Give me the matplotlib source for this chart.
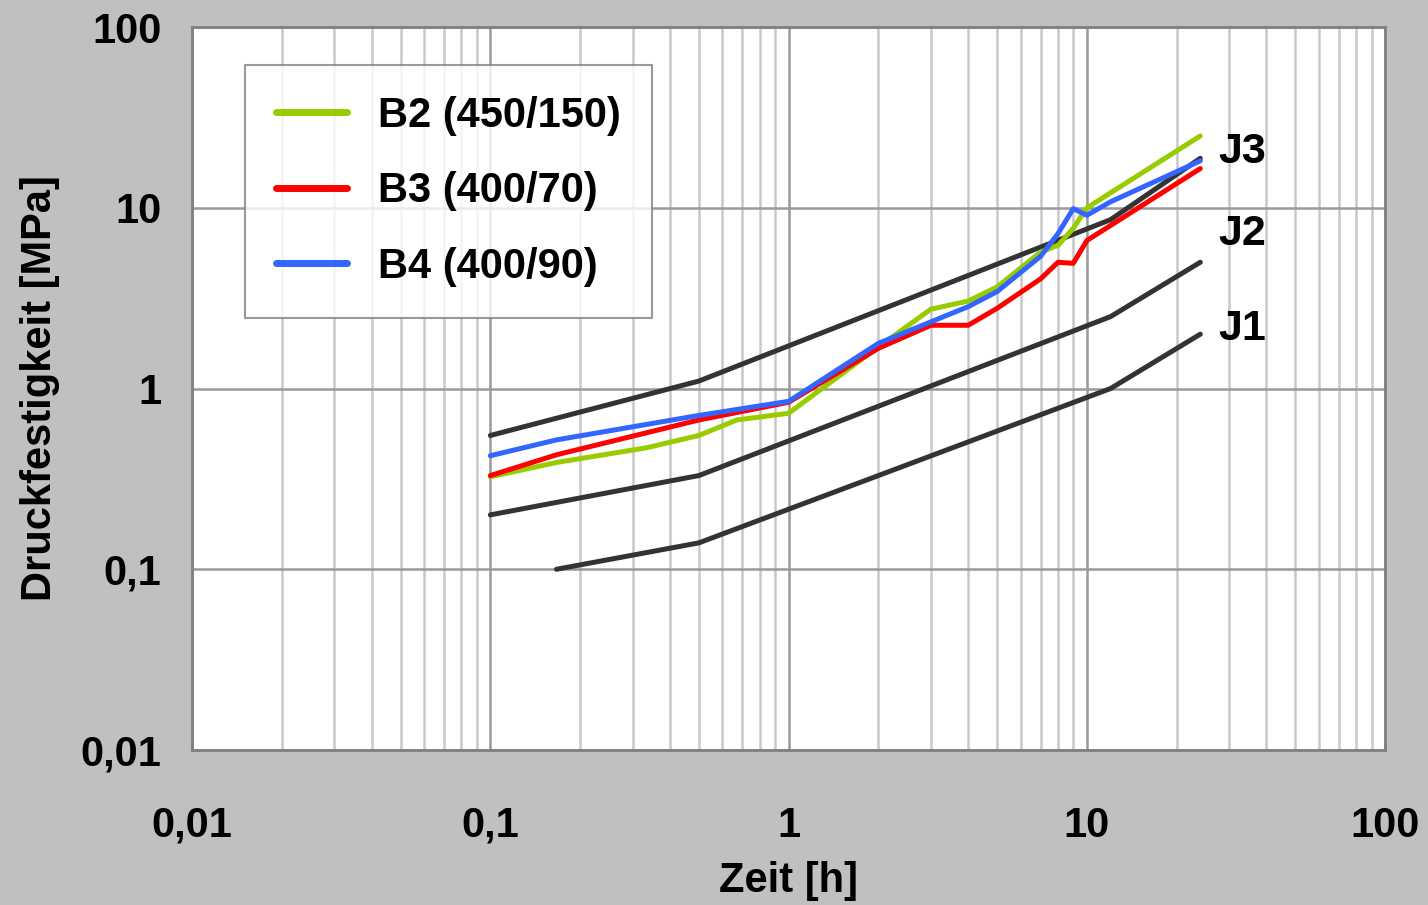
import matplotlib.pyplot as plt
from matplotlib.ticker import FixedLocator, LogLocator, NullFormatter

plt.rcParams['font.family'] = ['Liberation Sans', 'DejaVu Sans']
plt.rcParams['font.weight'] = 'bold'

# Zeit [h] / Druckfestigkeit [MPa]
b2_t = [0.1, 1/6, 1/3, 0.5, 0.67, 1, 2, 3, 4, 5, 7, 8, 9, 10, 24]
b2_f = [0.325, 0.39, 0.47, 0.55, 0.67, 0.73, 1.7, 2.75, 3.05, 3.65, 5.7, 6.2, 7.7, 10.0, 25.0]

b3_t = [0.1, 1/6, 0.5, 1, 2, 3, 4, 5, 7, 8, 9, 10, 24]
b3_f = [0.33, 0.43, 0.67, 0.84, 1.67, 2.24, 2.24, 2.78, 4.05, 5.0, 4.93, 6.6, 16.5]

b4_t = [0.1, 1/6, 0.5, 1, 2, 3, 4, 5, 7, 8, 9, 10, 12, 24]
b4_f = [0.425, 0.52, 0.71, 0.85, 1.78, 2.34, 2.84, 3.44, 5.4, 7.2, 9.9, 9.1, 10.8, 18.2]

# J-Grenzkurven
j1_t = [1/6, 0.5, 12, 24]
j1_f = [0.1, 0.14, 1.0, 2.0]
j2_t = [0.1, 0.5, 12, 24]
j2_f = [0.2, 0.33, 2.5, 5.0]
j3_t = [0.1, 0.5, 12, 24]
j3_f = [0.55, 1.1, 8.6, 18.8]

x_ticks = [0.01, 0.1, 1, 10, 100]
x_labels = ['0,01', '0,1', '1', '10', '100']
y_ticks = [0.01, 0.1, 1, 10, 100]
y_labels = ['0,01', '0,1', '1', '10', '100']

fig = plt.figure(figsize=(14.28, 9.05), dpi=100, facecolor='#c0c0c0')
ax = fig.add_axes([0.1345, 0.1713, 0.8355, 0.7987])
ax.set_facecolor('white')

ax.set_xscale('log')
ax.set_yscale('log')
ax.set_xlim(0.01, 100)
ax.set_ylim(0.01, 100)

# grid
ax.xaxis.set_minor_locator(LogLocator(base=10, subs=range(2, 10)))
ax.xaxis.set_minor_formatter(NullFormatter())
ax.yaxis.set_minor_locator(FixedLocator([]))
ax.grid(which='minor', axis='x', color='#c8c8c8', lw=1.8)
ax.grid(which='major', axis='both', color='#999999', lw=1.8)
ax.set_axisbelow(True)

lw = 3.6
ax.plot(j1_t, j1_f, color='#333333', lw=lw, solid_capstyle='round')
ax.plot(j2_t, j2_f, color='#333333', lw=lw, solid_capstyle='round')
ax.plot(j3_t, j3_f, color='#333333', lw=lw, solid_capstyle='round')
ax.plot(b2_t, b2_f, color='#99cc00', lw=lw, solid_capstyle='round', label='B2 (450/150)')
ax.plot(b3_t, b3_f, color='#ff0000', lw=lw, solid_capstyle='round', label='B3 (400/70)')
ax.plot(b4_t, b4_f, color='#3366ff', lw=lw, solid_capstyle='round', label='B4 (400/90)')

ax.text(27.5, 20.3, 'J3', fontsize=31, fontweight='bold', va='center', ha='left')
ax.text(27.5, 7.2, 'J2', fontsize=31, fontweight='bold', va='center', ha='left')
ax.text(27.5, 2.13, 'J1', fontsize=31, fontweight='bold', va='center', ha='left')

ax.set_xticks(x_ticks)
ax.set_xticklabels(x_labels)
ax.set_yticks(y_ticks)
ax.set_yticklabels(y_labels)
ax.tick_params(which='both', length=0, labelsize=30)
ax.tick_params(axis='x', pad=40)
ax.tick_params(axis='y', pad=22)

ax.set_xlabel('Zeit [h]', fontsize=30, fontweight='bold', labelpad=11)
ax.set_ylabel('Druckfestigkeit [MPa]', fontsize=30, fontweight='bold', labelpad=15)

for s in ax.spines.values():
    s.set_color('#808080')
    s.set_linewidth(2)

leg = ax.legend(loc='upper left', bbox_to_anchor=(0.0444, 0.948), fontsize=30,
                frameon=True, fancybox=False, handlelength=1.7, handletextpad=0.75,
                labelspacing=0.85, borderpad=0.75, borderaxespad=0)
leg.get_frame().set_edgecolor('#808080')
leg.get_frame().set_linewidth(1.5)
for line in leg.get_lines():
    line.set_linewidth(5)

fig.savefig('out.png', dpi=100, facecolor=fig.get_facecolor())
